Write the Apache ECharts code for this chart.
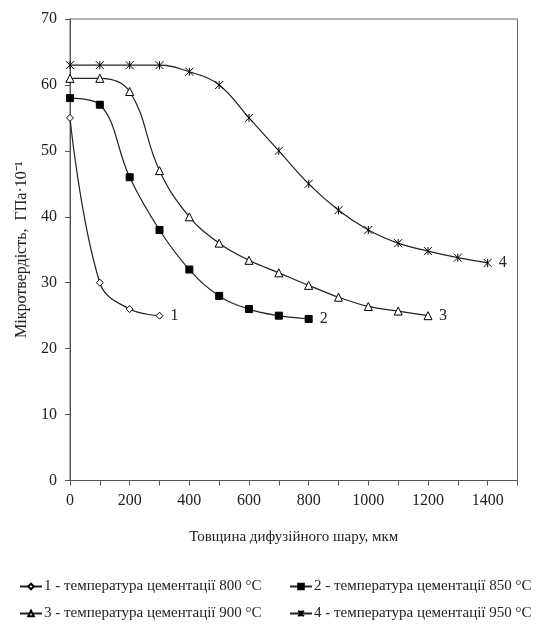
<!DOCTYPE html>
<html>
<head>
<meta charset="utf-8">
<script src="https://cdn.jsdelivr.net/npm/echarts@6/dist/echarts.min.js"></script>
<style>html,body{margin:0;padding:0;background:#fff}#c{width:552px;height:630px}</style>
</head>
<body>
<div id="c"></div>
<script>
// Data
const x1 = [0, 100, 200, 300];
const y1 = [55, 30, 26, 25];
const x2 = [0, 100, 200, 300, 400, 500, 600, 700, 800];
const y2 = [58, 57, 46, 38, 32, 28, 26, 25, 24.5];
const x3 = [0, 100, 200, 300, 400, 500, 600, 700, 800, 900, 1000, 1100, 1200];
const y3 = [61, 61, 59, 47, 40, 36, 33.4, 31.5, 29.6, 27.8, 26.4, 25.7, 25];
const x4 = [0, 100, 200, 300, 400, 500, 600, 700, 800, 900, 1000, 1100, 1200, 1300, 1400];
const y4 = [63, 63, 63, 63, 62, 60, 55, 50, 45, 41, 38, 36, 34.8, 33.8, 33];
const seriesNames = [
  '1 - температура цементації 800 °C',
  '2 - температура цементації 850 °C',
  '3 - температура цементації 900 °C',
  '4 - температура цементації 950 °C'
];
const endTags = ['1', '2', '3', '4'];
const xTitle = 'Товщина дифузійного шару, мкм';
const yTitle = 'Мікротвердість,  ГПа·10⁻¹';

const FONT = '"Liberation Serif", "Times New Roman", serif';
const INK = '#222';
const starPath = 'path://M0,0L10,10M10,0L0,10M5,0L5,10';

function pairs(xs, ys) { return xs.map((x, i) => [x, ys[i]]); }

const symbols = ['diamond', 'rect', 'triangle', starPath];
const sizes = [7, 7, 8, 8];
const fills = ['#fff', '#000', '#fff', '#000'];
const xs = [x1, x2, x3, x4], ys = [y1, y2, y3, y4];

const series = seriesNames.map((n, i) => ({
  name: n,
  type: 'line',
  data: pairs(xs[i], ys[i]),
  smooth: 0.4,
  symbol: symbols[i],
  symbolSize: sizes[i],
  showAllSymbol: true,
  lineStyle: { color: INK, width: 1.2 },
  itemStyle: { color: fills[i], borderColor: '#000', borderWidth: 1 },
  endLabel: { show: true, formatter: endTags[i], fontFamily: FONT, fontSize: 16, color: INK, distance: 11 },
  emphasis: { disabled: true },
  animation: false
}));

const legendPos = [
  { left: 14, top: 574 },
  { left: 284, top: 574 },
  { left: 14, top: 601 },
  { left: 284, top: 601 }
];
const legends = seriesNames.map((n, i) => ({
  data: [n],
  left: legendPos[i].left,
  top: legendPos[i].top,
  itemWidth: 22,
  itemHeight: 7,
  itemGap: 0,
  textStyle: { fontFamily: FONT, fontSize: 15, color: INK, padding: [0, 0, 0, -3] },
  selectedMode: false
}));

const chart = echarts.init(document.getElementById('c'), null, { renderer: 'canvas' });
chart.setOption({
  backgroundColor: '#fff',
  animation: false,
  grid: { left: 70, top: 19, right: 34.5, bottom: 149.5, show: true, borderColor: '#666', borderWidth: 1 },
  legend: legends,
  xAxis: {
    type: 'value', min: 0, max: 1500, interval: 100,
    name: xTitle, nameLocation: 'middle', nameGap: 49,
    nameTextStyle: { fontFamily: FONT, fontSize: 15, color: INK },
    axisLine: { lineStyle: { color: '#555', width: 1 } },
    axisTick: { show: true, inside: false, length: 5, lineStyle: { color: '#555' } },
    axisLabel: {
      fontFamily: FONT, fontSize: 16, color: INK, margin: 12,
      formatter: v => (v % 200 === 0 && v < 1500) ? String(v) : ''
    },
    splitLine: { show: false }
  },
  yAxis: {
    type: 'value', min: 0, max: 70, interval: 10,
    name: yTitle, nameLocation: 'middle', nameGap: 38,
    nameTextStyle: { fontFamily: FONT, fontSize: 16, color: INK },
    axisLine: { show: true, lineStyle: { color: '#555', width: 1 } },
    axisTick: { show: true, inside: false, length: 5, lineStyle: { color: '#555' } },
    axisLabel: { fontFamily: FONT, fontSize: 16, color: INK, margin: 13 },
    splitLine: { show: false }
  },
  series: series
});
</script>
</body>
</html>
